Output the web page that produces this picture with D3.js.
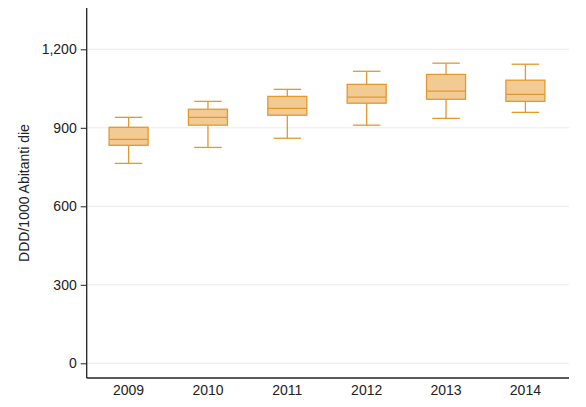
<!DOCTYPE html>
<html><head><meta charset="utf-8">
<script src="https://cdn.jsdelivr.net/npm/d3@7"></script>
<style>body{margin:0;background:#fff}svg{display:block}text{font-family:"Liberation Sans",Arial,sans-serif}</style>
</head><body><svg id="c" width="586" height="407"></svg>
<script>
const years = ["2009","2010","2011","2012","2013","2014"];
const whiskerLow  = [764, 825, 860, 910, 936, 959];
const q1          = [833, 910, 948, 994, 1009, 1001];
const median      = [856, 940, 974, 1017, 1040, 1028];
const q3          = [902, 971, 1020, 1066, 1104, 1082];
const whiskerHigh = [940, 1001, 1047, 1116, 1147, 1143];
const yTicks = [0, 300, 600, 900, 1200];
const yLabel = "DDD/1000 Abitanti die";

(function () {
const svg = d3.select("#c");
const pLeft = 86.7, pRight = 569, pTop = 8, pBottom = 378;
const y = d3.scaleLinear().domain([0, 1200]).range([363.3, 49.3]);
const x = d3.scalePoint().domain(years).range([128.6, 525.4]);

// gridlines
svg.append("g").selectAll("line").data(yTicks).join("line")
  .attr("x1", pLeft).attr("x2", pRight)
  .attr("y1", d => y(d)).attr("y2", d => y(d))
  .attr("stroke", "#ebebeb").attr("stroke-width", 1);

// y axis
const ya = svg.append("g").attr("transform", `translate(${pLeft},0)`)
  .call(d3.axisLeft(y).tickValues(yTicks).tickSize(6).tickPadding(4).tickFormat(d3.format(",")));
ya.select(".domain").remove();
ya.selectAll("line").attr("stroke", "#222");
ya.selectAll("text").attr("font-size", 14).attr("fill", "#222").attr("font-family", null);
svg.append("line").attr("x1", pLeft).attr("x2", pLeft).attr("y1", pTop).attr("y2", pBottom)
  .attr("stroke", "#222").attr("stroke-width", 1.3);

// x axis
svg.append("line").attr("x1", pLeft).attr("x2", pRight).attr("y1", pBottom).attr("y2", pBottom)
  .attr("stroke", "#222").attr("stroke-width", 1.3);
svg.append("g").selectAll("text").data(years).join("text")
  .attr("x", d => x(d)).attr("y", 395).attr("text-anchor", "middle")
  .attr("font-size", 14).attr("fill", "#222").text(d => d);

// y label
svg.append("text").attr("transform", `translate(29,${(pTop + pBottom) / 2}) rotate(-90)`)
  .attr("text-anchor", "middle").attr("font-size", 14).attr("fill", "#222").text(yLabel);

// boxes
const stroke = "#e3982f", fill = "#f2cb94";
const bw = 39, cw = 27.5;
const g = svg.append("g").selectAll("g").data(years).join("g")
  .attr("transform", d => `translate(${x(d)},0)`);
g.append("line").attr("x1", 0).attr("x2", 0)
  .attr("y1", (d, i) => y(whiskerHigh[i])).attr("y2", (d, i) => y(q3[i]))
  .attr("stroke", stroke).attr("stroke-width", 1.3);
g.append("line").attr("x1", 0).attr("x2", 0)
  .attr("y1", (d, i) => y(q1[i])).attr("y2", (d, i) => y(whiskerLow[i]))
  .attr("stroke", stroke).attr("stroke-width", 1.3);
g.append("line").attr("x1", -cw / 2).attr("x2", cw / 2)
  .attr("y1", (d, i) => y(whiskerHigh[i])).attr("y2", (d, i) => y(whiskerHigh[i]))
  .attr("stroke", stroke).attr("stroke-width", 1.3);
g.append("line").attr("x1", -cw / 2).attr("x2", cw / 2)
  .attr("y1", (d, i) => y(whiskerLow[i])).attr("y2", (d, i) => y(whiskerLow[i]))
  .attr("stroke", stroke).attr("stroke-width", 1.3);
g.append("rect").attr("x", -bw / 2).attr("width", bw)
  .attr("y", (d, i) => y(q3[i])).attr("height", (d, i) => y(q1[i]) - y(q3[i]))
  .attr("fill", fill).attr("stroke", stroke).attr("stroke-width", 1.3);
g.append("line").attr("x1", -bw / 2).attr("x2", bw / 2)
  .attr("y1", (d, i) => y(median[i])).attr("y2", (d, i) => y(median[i]))
  .attr("stroke", stroke).attr("stroke-width", 1.3);
})();
</script></body></html>
